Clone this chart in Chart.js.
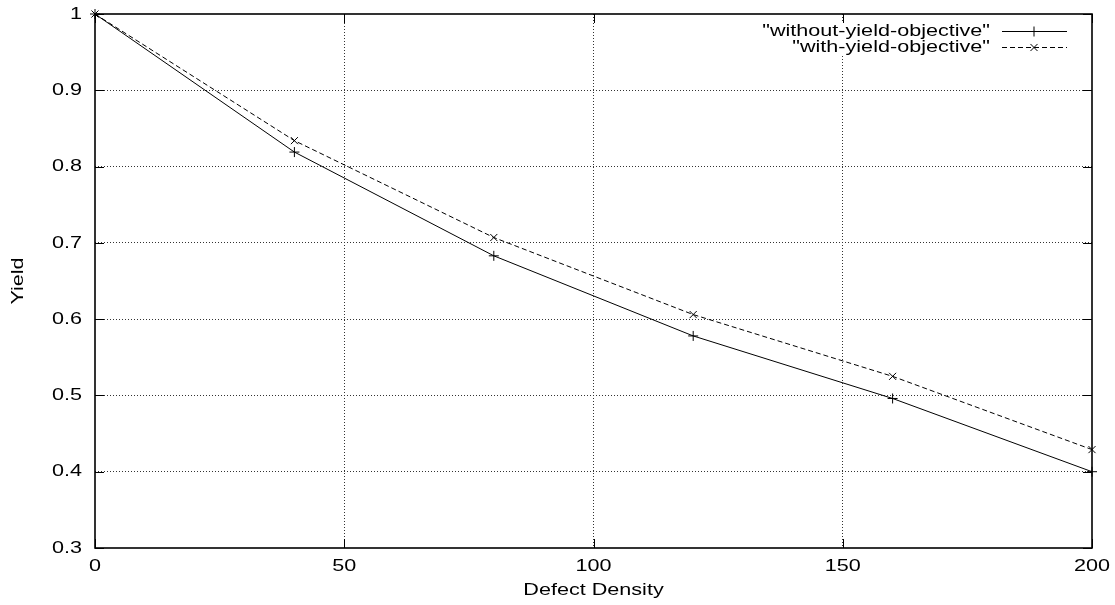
<!DOCTYPE html>
<html>
<head>
<meta charset="utf-8">
<script src="https://cdn.jsdelivr.net/npm/chart.js@4/dist/chart.umd.min.js"></script>
<style>
  html, body { margin: 0; padding: 0; background: #fff; }
  #wrap { width: 1115px; height: 605px; }
</style>
</head>
<body>
<div id="wrap"><canvas id="chart"></canvas></div>
<script>
// data
const densities = [0, 40, 80, 120, 160, 200];
const withoutYield = [1.0, 0.819, 0.683, 0.578, 0.496, 0.400];
const withYield = [1.0, 0.834, 0.707, 0.606, 0.525, 0.429];
const seriesNames = ['"without-yield-objective"', '"with-yield-objective"'];
const xTicks = [0, 50, 100, 150, 200];
const yTicks = [0.3, 0.4, 0.5, 0.6, 0.7, 0.8, 0.9, 1];
const xTitle = "Defect Density";
const yTitle = "Yield";

const FONT = "17px 'Liberation Sans', Arial, sans-serif";
const STRETCH = 1.27; // the postscript text in the original is drawn wide

// text helper, stretches glyphs horizontally like the original
function drawText(ctx, text, x, y, align, rot) {
  ctx.save();
  ctx.translate(x, y);
  if (rot) ctx.rotate(rot);
  ctx.scale(STRETCH, 1);
  ctx.font = FONT;
  ctx.fillStyle = "#000";
  ctx.textAlign = align;
  ctx.textBaseline = "middle";
  ctx.fillText(text, 0, 0);
  ctx.restore();
}

function fmt(v) {
  return String(Math.round(v * 10) / 10);
}

function toPoints(xs, ys) {
  return xs.map((x, i) => ({ x: x, y: ys[i] }));
}

// gnuplot style frame: border box, inward ticks, labels and key
const gnuFrame = {
  id: "gnuFrame",
  beforeDatasetsDraw(chart) {
    const ctx = chart.ctx;
    const a = chart.chartArea;
    // key area is opaque, it hides the grid behind it
    ctx.save();
    ctx.fillStyle = "#fff";
    ctx.fillRect(752, a.top + 8, a.right - 759, 34);
    ctx.restore();
  },
  afterDatasetsDraw(chart) {
    const ctx = chart.ctx;
    const a = chart.chartArea;
    const xs = chart.scales.x;
    const ys = chart.scales.y;
    ctx.save();
    ctx.strokeStyle = "#000";
    ctx.lineWidth = 1;
    ctx.setLineDash([]);
    ctx.beginPath();
    xTicks.forEach((v) => {
      const px = Math.round(xs.getPixelForValue(v)) + 0.5;
      ctx.moveTo(px, a.bottom); ctx.lineTo(px, a.bottom - 9);
      ctx.moveTo(px, a.top); ctx.lineTo(px, a.top + 9);
    });
    yTicks.forEach((v) => {
      const py = Math.round(ys.getPixelForValue(v)) + 0.5;
      ctx.moveTo(a.left, py); ctx.lineTo(a.left + 9, py);
      ctx.moveTo(a.right, py); ctx.lineTo(a.right - 9, py);
    });
    ctx.stroke();
    ctx.lineWidth = 1.6;
    ctx.strokeRect(a.left, a.top, a.right - a.left, a.bottom - a.top);

    // tick labels and titles
    xTicks.forEach((v) => drawText(ctx, String(v), xs.getPixelForValue(v), a.bottom + 18, "center"));
    yTicks.forEach((v) => drawText(ctx, fmt(v), a.left - 13, ys.getPixelForValue(v), "right"));
    drawText(ctx, xTitle, (a.left + a.right) / 2, 590, "center");
    drawText(ctx, yTitle, 18, (a.top + a.bottom) / 2, "center", -Math.PI / 2);

    // key
    const rows = [
      { y: 31, dash: [], style: "cross" },
      { y: 47, dash: [5, 3], style: "crossRot" },
    ];
    rows.forEach((r, i) => {
      drawText(ctx, seriesNames[i], 990, r.y, "right");
      ctx.strokeStyle = "#000";
      ctx.lineWidth = 1;
      ctx.setLineDash(r.dash);
      ctx.beginPath();
      ctx.moveTo(1002, r.y + 0.5);
      ctx.lineTo(1067, r.y + 0.5);
      ctx.stroke();
      ctx.setLineDash([]);
      Chart.helpers.drawPoint(ctx, { pointStyle: r.style, radius: 5, borderWidth: 1 }, 1034, r.y + 0.5);
    });
    ctx.restore();
  },
};

const chartData = {
  datasets: [
    {
      label: seriesNames[0],
      data: toPoints(densities, withoutYield),
      borderColor: "#000",
      backgroundColor: "#000",
      borderWidth: 1,
      pointStyle: "cross",
      pointRadius: 5,
      pointBorderWidth: 1,
      pointBorderColor: "#000",
      tension: 0,
      clip: false,
    },
    {
      label: seriesNames[1],
      data: toPoints(densities, withYield),
      borderColor: "#000",
      backgroundColor: "#000",
      borderWidth: 1,
      borderDash: [5, 3],
      pointStyle: "crossRot",
      pointRadius: 5,
      pointBorderWidth: 1,
      pointBorderColor: "#000",
      tension: 0,
      clip: false,
    },
  ],
};

const chartOptions = {
  responsive: true,
  maintainAspectRatio: false,
  animation: false,
  layout: { padding: { top: 14, right: 23, left: 0, bottom: 0 } },
  plugins: {
    legend: { display: false },
    tooltip: { enabled: false },
    title: { display: false },
  },
  scales: {
    x: {
      type: "linear",
      min: 0,
      max: 200,
      afterBuildTicks: (scale) => { scale.ticks = xTicks.map((v) => ({ value: v })); },
      afterFit: (scale) => { scale.height = 57; },
      grid: {
        color: (c) => (c.tick && (c.tick.value === 0 || c.tick.value === 200) ? "rgba(0,0,0,0)" : "#333"),
        lineWidth: 1,
        drawTicks: false,
      },
      border: { display: false, dash: [1, 2] },
      ticks: { display: false },
    },
    y: {
      type: "linear",
      min: 0.3,
      max: 1,
      afterBuildTicks: (scale) => { scale.ticks = yTicks.map((v) => ({ value: v })); },
      afterFit: (scale) => { scale.width = 95; },
      grid: {
        color: (c) => (c.tick && (c.tick.value <= 0.3 || c.tick.value >= 1) ? "rgba(0,0,0,0)" : "#333"),
        lineWidth: 1,
        drawTicks: false,
      },
      border: { display: false, dash: [1, 2] },
      ticks: { display: false },
    },
  },
};

const ctx = document.getElementById("chart").getContext("2d");
new Chart(ctx, {
  type: "line",
  data: chartData,
  options: chartOptions,
  plugins: [gnuFrame],
});
</script>
</body>
</html>
